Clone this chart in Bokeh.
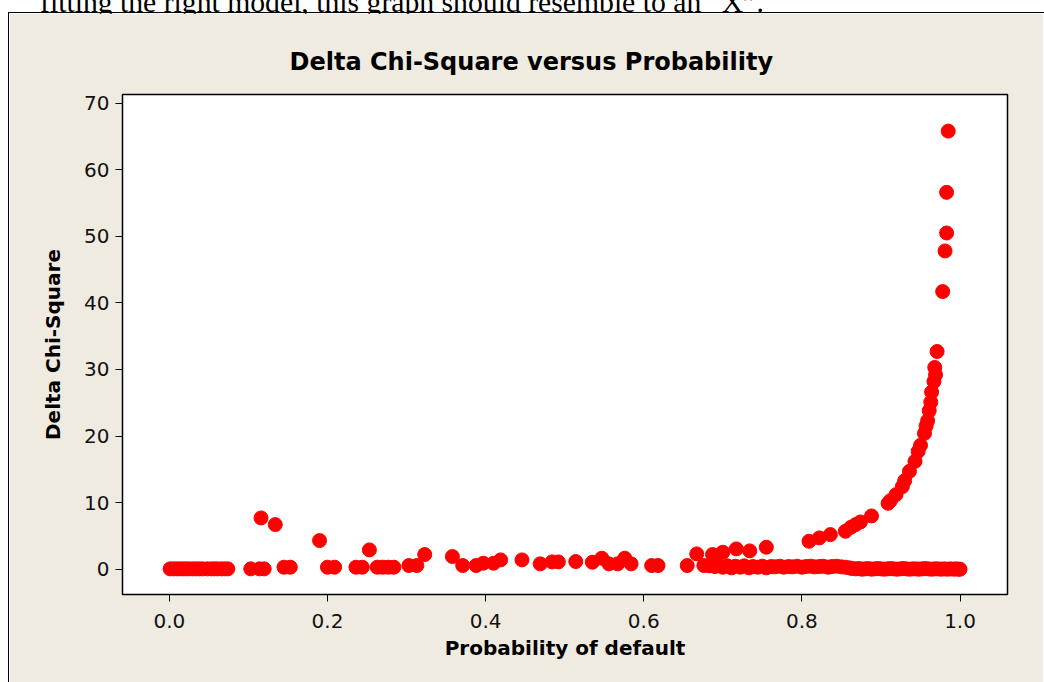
from bokeh.plotting import figure
from bokeh.models import ColumnDataSource, Range1d, FixedTicker, Div
from bokeh.layouts import column
from bokeh.embed import file_html
from bokeh.resources import INLINE

# ---- data ----
prob_low = [0.001, 0.005, 0.009, 0.013, 0.017, 0.021, 0.025, 0.030, 0.034, 0.038,
            0.042, 0.048, 0.053, 0.057, 0.061, 0.066, 0.070, 0.074,
            0.103, 0.114, 0.120, 0.116, 0.134, 0.145, 0.153, 0.190, 0.200, 0.209,
            0.236, 0.244, 0.253, 0.263, 0.270, 0.277, 0.284, 0.303, 0.313, 0.323,
            0.358, 0.371, 0.388, 0.397, 0.410, 0.419, 0.446, 0.469, 0.484, 0.492,
            0.514, 0.535, 0.547, 0.556, 0.567, 0.576, 0.584, 0.610, 0.618, 0.655,
            0.667, 0.687, 0.700, 0.717, 0.734, 0.755]
dchi_low = [0.05, 0.05, 0.05, 0.05, 0.05, 0.05, 0.05, 0.05, 0.05, 0.05,
            0.05, 0.05, 0.05, 0.05, 0.05, 0.05, 0.05, 0.05,
            0.05, 0.05, 0.05, 7.7, 6.7, 0.3, 0.3, 4.3, 0.3, 0.3,
            0.3, 0.3, 2.9, 0.3, 0.3, 0.3, 0.3, 0.55, 0.55, 2.2,
            1.9, 0.55, 0.55, 0.9, 0.9, 1.4, 1.4, 0.8, 1.1, 1.1,
            1.15, 1.05, 1.65, 0.8, 0.8, 1.65, 0.8, 0.55, 0.55, 0.55,
            2.3, 2.2, 2.55, 3.05, 2.75, 3.3]

prob_band = [0.676, 0.683, 0.690, 0.695, 0.700, 0.706, 0.711, 0.716, 0.722, 0.727,
             0.733, 0.738, 0.744, 0.750, 0.755, 0.761, 0.766, 0.772, 0.777, 0.783,
             0.788, 0.794, 0.800, 0.805, 0.811, 0.816, 0.822, 0.827, 0.833, 0.838,
             0.844, 0.850, 0.855, 0.860,
             0.864, 0.868, 0.872, 0.876, 0.880, 0.884, 0.888, 0.892, 0.896, 0.900,
             0.904, 0.908, 0.912, 0.916, 0.920, 0.924, 0.928, 0.932, 0.936, 0.940,
             0.944, 0.948, 0.952, 0.956, 0.960, 0.964, 0.968, 0.972, 0.976, 0.980,
             0.984, 0.988, 0.992, 0.995, 0.998, 1.000]
dchi_band = [0.55, 0.5, 0.4, 0.55, 0.3, 0.5, 0.2, 0.45, 0.3, 0.5,
             0.2, 0.4, 0.3, 0.45, 0.2, 0.4, 0.35, 0.45, 0.3, 0.4,
             0.35, 0.45, 0.3, 0.4, 0.45, 0.35, 0.4, 0.45, 0.3, 0.4,
             0.45, 0.35, 0.3, 0.2,
             0.1, 0.05, 0.1, 0.0, 0.05, 0.1, 0.0, 0.05, 0.1, 0.05,
             0.0, 0.05, 0.1, 0.05, 0.0, 0.05, 0.1, 0.05, 0.0, 0.05,
             0.05, 0.0, 0.05, 0.1, 0.05, 0.0, 0.05, 0.05, 0.0, 0.05,
             0.0, 0.05, 0.0, 0.05, 0.0, 0.0]

prob_curve = [0.809, 0.822, 0.836, 0.855, 0.862, 0.868, 0.874, 0.888, 0.909, 0.912,
              0.919, 0.927, 0.930, 0.936, 0.943, 0.947, 0.950, 0.955, 0.957, 0.959,
              0.961, 0.963, 0.964, 0.967, 0.969, 0.968, 0.971, 0.978, 0.981, 0.983,
              0.983, 0.985]
dchi_curve = [4.2, 4.7, 5.2, 5.7, 6.3, 6.7, 7.1, 8.0, 9.9, 10.3,
              11.2, 12.4, 13.3, 14.7, 16.2, 17.7, 18.6, 20.4, 21.5, 22.3,
              23.8, 25.1, 26.6, 28.2, 29.2, 30.3, 32.7, 41.7, 47.8, 50.5,
              56.6, 65.8]

x_ticks = [0.0, 0.2, 0.4, 0.6, 0.8, 1.0]
y_ticks = [0, 10, 20, 30, 40, 50, 60, 70]

prob = prob_low + prob_band + prob_curve
dchi = dchi_low + dchi_band + dchi_curve
src = ColumnDataSource(data=dict(prob=prob, dchi=dchi))

BEIGE = "#EFEBE1"

p = figure(width=1035, height=669, output_backend="svg", toolbar_location=None,
           x_range=Range1d(-0.0592, 1.06), y_range=Range1d(-3.8, 71.3),
           min_border_left=113, min_border_right=37, min_border_top=81, min_border_bottom=88,
           background_fill_color="white", border_fill_color=BEIGE,
           title="Delta Chi-Square versus Probability")
p.margin = (0, 0, 0, 8)

p.title.align = "left"
p.title.offset = 167
p.title.text_font = "DejaVu Sans"
p.title.text_font_size = "24px"
p.title.text_font_style = "bold"
p.title.text_color = "black"
p.title.standoff = 38

p.scatter("prob", "dchi", source=src, size=14, color="#FF0000", line_color="#FF0000")

p.grid.visible = False
p.outline_line_color = "black"
p.outline_line_width = 1.5

p.xaxis.ticker = FixedTicker(ticks=x_ticks)
p.yaxis.ticker = FixedTicker(ticks=y_ticks)
p.xaxis.major_label_overrides = {t: f"{t:.1f}" for t in x_ticks}
for ax in (p.xaxis[0], p.yaxis[0]):
    ax.axis_line_color = None
    ax.major_tick_in = 0
    ax.major_tick_out = 7
    ax.major_tick_line_color = "black"
    ax.major_tick_line_width = 1
    ax.minor_tick_line_color = None
    ax.major_label_text_font = "DejaVu Sans"
    ax.major_label_text_font_size = "20px"
    ax.major_label_text_color = "#111111"
    ax.axis_label_text_font = "DejaVu Sans"
    ax.axis_label_text_font_size = "20px"
    ax.axis_label_text_font_style = "bold"
    ax.axis_label_text_color = "black"

p.xaxis.axis_label = "Probability of default"
p.yaxis.axis_label = "Delta Chi-Square"
p.xaxis.major_label_standoff = 12
p.yaxis.major_label_standoff = 6
p.xaxis.axis_label_standoff = 5
p.yaxis.axis_label_standoff = 16
p.styles = {"border-left": "1px solid black"}

top = Div(text='<div style="margin-top:-27px;margin-left:32px;font-family:\'Liberation Serif\';'
               'font-size:29.7px;line-height:29px;white-space:nowrap;color:black;">'
               'fitting the right model, this graph should resemble to an \u201cX\u201d.</div>',
          width=1036, height=13, margin=(0, 0, 0, 8),
          styles={"overflow": "visible", "border-bottom": "1px solid black"})

layout = column(top, p, spacing=0)
open("out.html", "w").write(file_html(layout, INLINE))
